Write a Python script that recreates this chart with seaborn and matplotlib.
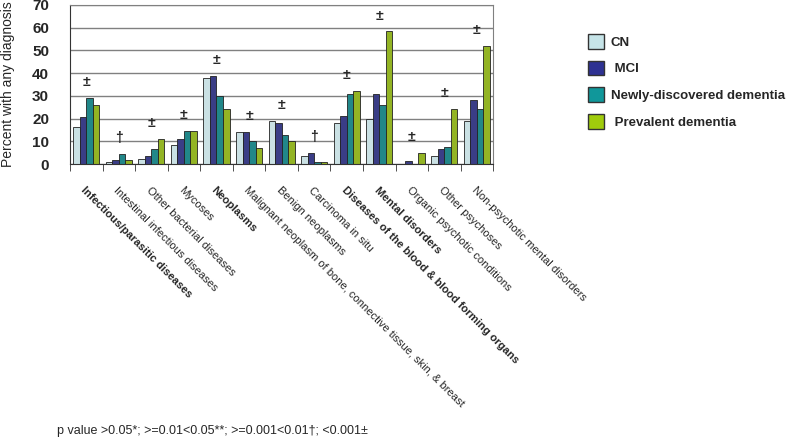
import numpy as np
import pandas as pd
import seaborn as sns
import matplotlib.pyplot as plt
from matplotlib.patches import Patch

categories = ['Infectious/parasitic diseases', 'Intestinal infectious diseases',
              'Other bacterial diseases', 'Mycoses', 'Neoplasms',
              'Malignant neoplasm of bone, connective tissue, skin, & breast',
              'Benign neoplasms', 'Carcinoma in situ',
              'Diseases of the blood & blood forming organs', 'Mental disorders',
              'Organic psychotic conditions', 'Other psychoses',
              'Non-psychotic mental disorders']
bold_cats = ['Infectious/parasitic diseases', 'Neoplasms',
             'Diseases of the blood & blood forming organs', 'Mental disorders']
groups = ['CN', 'MCI', 'Newly-discovered dementia', 'Prevalent dementia']
cn = [16.2, 0.9, 2.1, 8.4, 38.0, 14.0, 18.9, 3.5, 18.0, 20.0, 0.2, 3.5, 19.0]
mci = [20.9, 1.8, 3.5, 10.9, 38.9, 14.0, 18.0, 4.9, 21.0, 31.0, 1.3, 6.6, 28.1]
newly = [28.9, 4.4, 6.6, 14.7, 30.0, 10.0, 13.0, 0.9, 31.0, 25.8, 0.0, 7.7, 24.2]
prevalent = [25.9, 1.8, 11.0, 14.7, 24.2, 7.0, 10.0, 0.9, 32.0, 58.3, 4.9, 24.2, 52.1]
sig = ['±', '†', '±', '±', '±', '±', '±', '†', '±', '±', '±', '±', '±']
colors = ['#C6E4E8', '#2E3192', '#10979A', '#A0CC0C']

df = pd.DataFrame({
    'category': categories * 4,
    'group': np.repeat(groups, len(categories)),
    'value': cn + mci + newly + prevalent,
})

sns.set_style('white')
plt.rcParams['font.family'] = ['Liberation Sans', 'DejaVu Sans']

fig = plt.figure(figsize=(8, 4.4), dpi=100)
ax = fig.add_axes([0.0875, 0.627, 0.529, 0.362])

sns.barplot(data=df, x='category', y='value', hue='group', palette=colors,
            edgecolor='#222222', linewidth=0.6, width=0.8, ax=ax, legend=False)

# significance marks above each group
tops = np.max([cn, mci, newly, prevalent], axis=0)
for i, s in enumerate(sig):
    ax.text(i, tops[i] + 7, s, ha='center', va='center', fontsize=10, fontweight='bold')

ax.set_ylim(0, 70)
ax.set_xlim(-0.5, len(categories) - 0.5)
ax.set_yticks(range(0, 71, 10))
ax.yaxis.grid(True, color='#808080', linewidth=1)
ax.set_axisbelow(True)
for sp in ax.spines.values():
    sp.set_color('#808080')
ax.spines['left'].set_color('#333333')
ax.spines['bottom'].set_color('#333333')
ax.tick_params(axis='y', length=6, color='#808080', pad=9, labelsize=11)
for t in ax.get_yticklabels():
    t.set_fontweight('bold')

ax.set_xticks(np.arange(len(categories)))
ax.set_xticks(np.arange(len(categories) + 1) - 0.5, minor=True)
ax.tick_params(axis='x', which='major', length=0, pad=15)
ax.tick_params(axis='x', which='minor', length=5, color='#333333', direction='out', bottom=True)
ax.set_xticklabels(categories, rotation=-45, ha='left', va='top',
                   rotation_mode='anchor', fontsize=8)
for t in ax.get_xticklabels():
    if t.get_text() in bold_cats:
        t.set_fontweight('bold')

ax.set_xlabel('')
ax.set_ylabel('Percent with any diagnosis', fontsize=10)
ax.yaxis.set_label_coords(-0.13, 0.5)

handles = [Patch(facecolor=c, edgecolor='#333333', label=l)
           for c, l in zip(colors, ['CN', ' MCI', 'Newly-discovered dementia', ' Prevalent dementia'])]
fig.legend(handles=handles, loc='upper left', bbox_to_anchor=(0.72, 0.95),
           frameon=False, prop={'weight': 'bold', 'size': 9.5},
           handlelength=1.25, handleheight=1.35, labelspacing=0.9, handletextpad=0.5)

fig.text(57 / 800, 1 - 431 / 440, 'p value >0.05*; >=0.01<0.05**; >=0.001<0.01†; <0.001±',
         fontsize=9, va='center', ha='left')

fig.savefig('out.png', dpi=100)
